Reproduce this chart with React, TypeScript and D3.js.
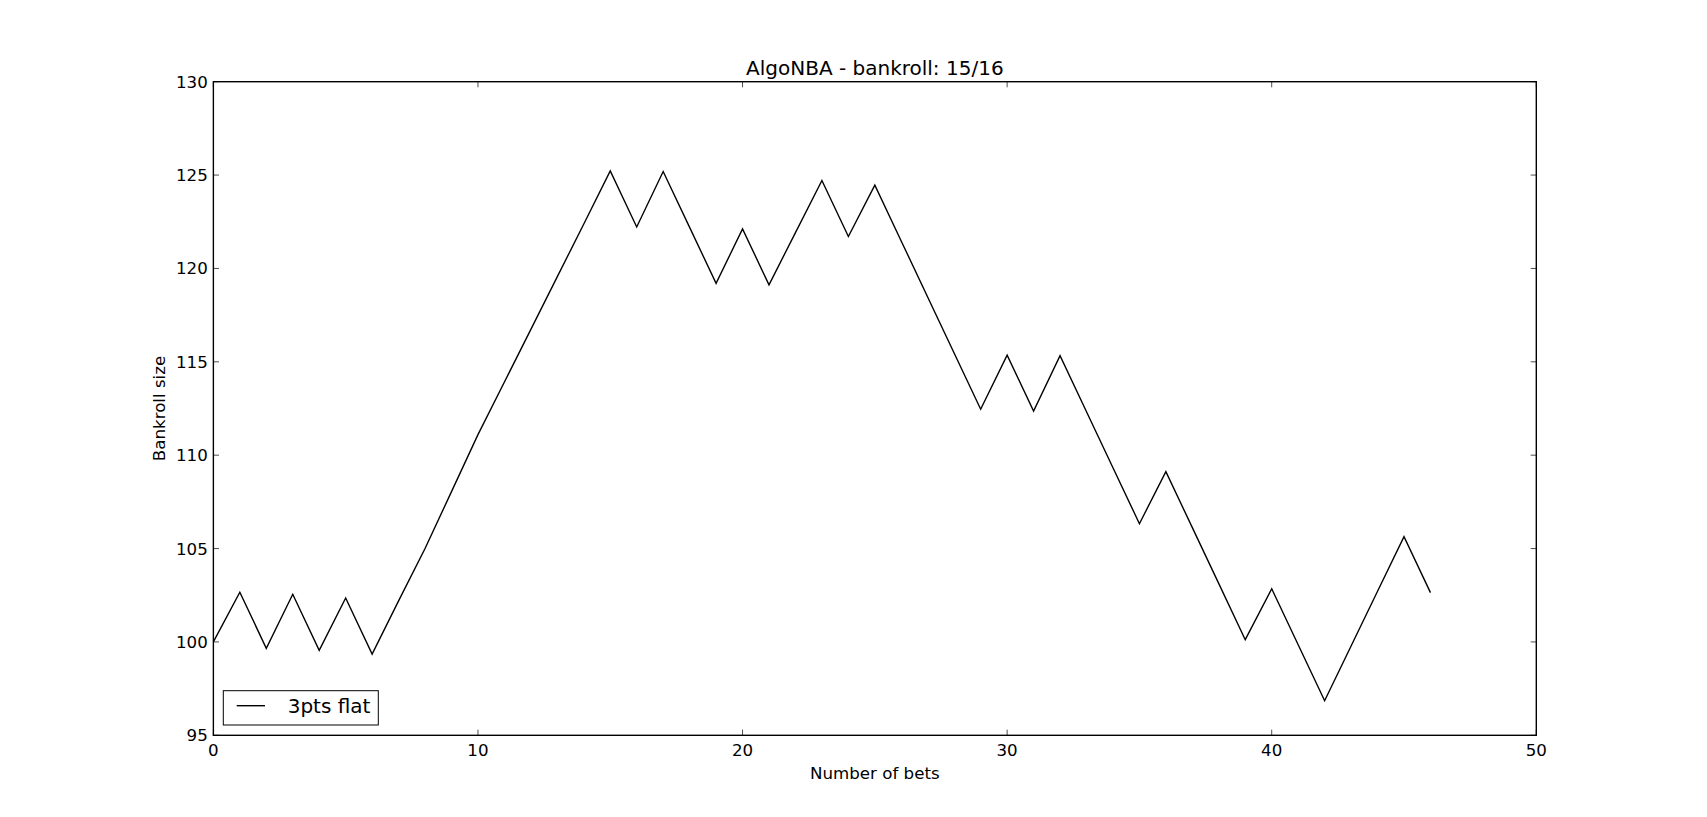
import React from 'react';
import * as d3 from 'd3';

const TITLE = 'AlgoNBA - bankroll: 15/16';
const X_LABEL = 'Number of bets';
const Y_LABEL = 'Bankroll size';
const SERIES_NAME = '3pts flat';

const bankroll: number[] = [
  100, 102.66, 99.66, 102.55, 99.55, 102.35, 99.35, 102.2, 105.0, 108.05,
  111.1, 113.92, 116.74, 119.56, 122.38, 125.22, 122.22, 125.19, 122.2, 119.2,
  122.12, 119.12, 121.92, 124.71, 121.71, 124.46, 121.46, 118.46, 115.46, 112.46,
  115.36, 112.36, 115.33, 112.33, 109.33, 106.33, 109.12, 106.12, 103.12, 100.12,
  102.85, 99.85, 96.85, 99.78, 102.71, 105.64, 102.64,
];

const xTicks = [0, 10, 20, 30, 40, 50];
const yTicks = [95, 100, 105, 110, 115, 120, 125, 130];

const W = 1707;
const H = 817;
const LEFT = 0.125 * W;
const RIGHT = 0.9 * W;
const TOP = 0.1 * H;
const BOTTOM = 0.9 * H;
const FONT = '"DejaVu Sans", sans-serif';
const TICK = 5.6;

export default function App() {
  const x = d3.scaleLinear().domain([0, 50]).range([LEFT, RIGHT]);
  const y = d3.scaleLinear().domain([95, 130]).range([BOTTOM, TOP]);
  const line = d3
    .line<number>()
    .x((_, i) => x(i))
    .y((d) => y(d));

  return (
    <svg
      width={W}
      height={H}
      style={{ position: 'absolute', left: 0, top: 0, background: '#fff' }}
      fontFamily={FONT}
    >
      <rect x={0} y={0} width={W} height={H} fill="#fff" />
      <path d={line(bankroll) || ''} fill="none" stroke="#000" strokeWidth={1.39} strokeLinejoin="miter" />

      {/* ticks */}
      {xTicks.map((t) => (
        <g key={'xt' + t}>
          <line x1={x(t)} x2={x(t)} y1={BOTTOM} y2={BOTTOM - TICK} stroke="#000" strokeWidth={0.7} />
          <line x1={x(t)} x2={x(t)} y1={TOP} y2={TOP + TICK} stroke="#000" strokeWidth={0.7} />
          <text x={x(t)} y={BOTTOM + 20.5} fontSize={16.67} textAnchor="middle" fill="#000">
            {t}
          </text>
        </g>
      ))}
      {yTicks.map((t) => (
        <g key={'yt' + t}>
          <line x1={LEFT} x2={LEFT + TICK} y1={y(t)} y2={y(t)} stroke="#000" strokeWidth={0.7} />
          <line x1={RIGHT} x2={RIGHT - TICK} y1={y(t)} y2={y(t)} stroke="#000" strokeWidth={0.7} />
          <text x={LEFT - 5.6} y={y(t)} dy="0.36em" fontSize={16.67} textAnchor="end" fill="#000">
            {t}
          </text>
        </g>
      ))}

      {/* frame */}
      <rect x={LEFT} y={TOP} width={RIGHT - LEFT} height={BOTTOM - TOP} fill="none" stroke="#000" strokeWidth={1.39} />

      {/* title and labels */}
      <text x={(LEFT + RIGHT) / 2} y={75} fontSize={20} textAnchor="middle" fill="#000">
        {TITLE}
      </text>
      <text x={(LEFT + RIGHT) / 2} y={779} fontSize={16.67} textAnchor="middle" fill="#000">
        {X_LABEL}
      </text>
      <text
        transform={`translate(164.5, ${(TOP + BOTTOM) / 2}) rotate(-90)`}
        fontSize={16.67}
        textAnchor="middle"
        fill="#000"
      >
        {Y_LABEL}
      </text>

      {/* legend */}
      <rect x={223.3} y={690.7} width={155} height={34.3} fill="#fff" stroke="#000" strokeWidth={1} />
      <line x1={236.7} x2={265} y1={705.7} y2={705.7} stroke="#000" strokeWidth={1.39} />
      <text x={287.7} y={712.8} fontSize={20} fill="#000">
        {SERIES_NAME}
      </text>
    </svg>
  );
}
